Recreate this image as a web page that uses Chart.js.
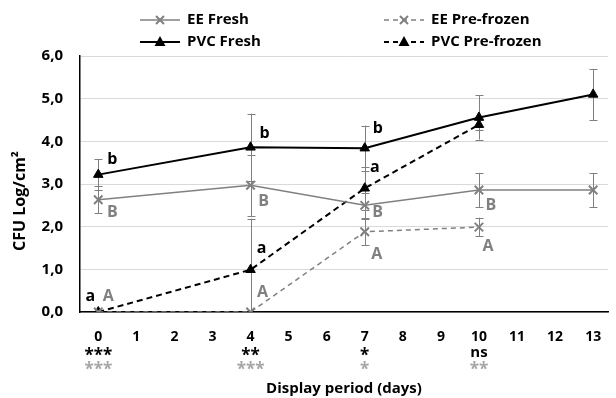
<!DOCTYPE html>
<html lang="en">
<head>
    <meta charset="UTF-8">
    <title>CFU Log/cm2 over display period</title>
    <script src="https://cdn.jsdelivr.net/npm/chart.js"></script>
    <style>
        body { margin: 0; background: #fff; }
        #wrap { width: 616px; height: 398px; }
    </style>
</head>
<body>

    <div id="wrap">
        <canvas id="cfuChart" width="616" height="398"></canvas>
    </div>

    <script>
        // days on which samples were taken
        const days = [0, 4, 7, 10, 13];
        const tickDays = [0, 1, 2, 3, 4, 5, 6, 7, 8, 9, 10, 11, 12, 13];

        // mean values (CFU Log/cm2)
        const eeFresh      = [2.63, 2.97, 2.50, 2.86, 2.86];
        const eePreFrozen  = [0.00, 0.00, 1.88, 1.99, null];
        const pvcFresh     = [3.22, 3.86, 3.84, 4.56, 5.10];
        const pvcPreFrozen = [0.00, 0.99, 2.90, 4.39, null];

        // error bars (+/-)
        const eeFreshErr      = [0.32, 0.72, 0.30, 0.40, 0.40];
        const eePreFrozenErr  = [0, 0, 0.31, 0.22, null];
        const pvcFreshErr     = [0.36, 0.79, 0.53, 0.52, 0.60];
        const pvcPreFrozenErr = [0, 1.20, 0.50, 0.12, null];

        // letters of significance next to the points
        const pvcFreshLetters     = ['b', 'b', 'b', '', ''];
        const pvcPreFrozenLetters = ['a', 'a', 'a', '', ''];
        const eeFreshLetters      = ['B', 'B', 'B', 'B', ''];
        const eePreFrozenLetters  = ['A', 'A', 'A', 'A', ''];

        // significance under the x axis
        const pvcStars = ['***', '**', '*', 'ns', ''];
        const eeStars  = ['***', '***', '*', '**', ''];

        const GREY = '#808080';
        const FONT = '"Open Sans", Lato, sans-serif';

        function toPoints(values) {
            const pts = [];
            values.forEach((v, i) => { if (v !== null) pts.push({ x: days[i], y: v }); });
            return pts;
        }

        // where each letter sits relative to its point (px)
        const letterOffsets = {
            pvcFresh:     [[14, -15], [14, -14], [13, -20]],
            pvcPreFrozen: [[-8, -16], [11, -21], [10, -21]],
            eeFresh:      [[14, 13], [13, 16], [13, 7], [12, 15]],
            eePreFrozen:  [[10, -16], [12, -20], [12, 23], [9, 19]]
        };

        const errorBars = {
            id: 'errorBars',
            beforeDatasetsDraw(chart) {
                const ctx = chart.ctx;
                const xs = chart.scales.x, ys = chart.scales.y;
                const a = chart.chartArea;
                const sets = [
                    [eeFresh, eeFreshErr], [eePreFrozen, eePreFrozenErr],
                    [pvcFresh, pvcFreshErr], [pvcPreFrozen, pvcPreFrozenErr]
                ];
                ctx.save();
                ctx.beginPath();
                ctx.rect(a.left, a.top - 20, a.right - a.left, a.bottom - a.top + 20);
                ctx.clip();
                ctx.strokeStyle = GREY;
                ctx.lineWidth = 1;
                sets.forEach(([vals, errs]) => {
                    vals.forEach((v, i) => {
                        if (v === null || !errs[i]) return;
                        const x = Math.round(xs.getPixelForValue(days[i])) + 0.5;
                        const y1 = ys.getPixelForValue(v + errs[i]);
                        const y2 = ys.getPixelForValue(v - errs[i]);
                        ctx.beginPath();
                        ctx.moveTo(x, y1); ctx.lineTo(x, y2);
                        ctx.moveTo(x - 4, Math.round(y1) + 0.5); ctx.lineTo(x + 4, Math.round(y1) + 0.5);
                        ctx.moveTo(x - 4, Math.round(y2) + 0.5); ctx.lineTo(x + 4, Math.round(y2) + 0.5);
                        ctx.stroke();
                    });
                });
                ctx.restore();
            }
        };

        const annotations = {
            id: 'annotations',
            afterDatasetsDraw(chart) {
                const ctx = chart.ctx;
                const xs = chart.scales.x, ys = chart.scales.y;
                ctx.save();
                ctx.font = 'bold 16px ' + FONT;
                ctx.textAlign = 'center';
                ctx.textBaseline = 'middle';
                const groups = [
                    ['pvcFresh', pvcFresh, pvcFreshLetters, '#000'],
                    ['pvcPreFrozen', pvcPreFrozen, pvcPreFrozenLetters, '#000'],
                    ['eeFresh', eeFresh, eeFreshLetters, GREY],
                    ['eePreFrozen', eePreFrozen, eePreFrozenLetters, GREY]
                ];
                groups.forEach(([key, vals, letters, color]) => {
                    ctx.fillStyle = color;
                    letters.forEach((t, i) => {
                        if (!t) return;
                        const off = letterOffsets[key][i];
                        ctx.fillText(t, xs.getPixelForValue(days[i]) + off[0], ys.getPixelForValue(vals[i]) + off[1]);
                    });
                });
                ctx.restore();
            },
            afterDraw(chart) {
                const ctx = chart.ctx;
                const xs = chart.scales.x;
                const a = chart.chartArea;
                ctx.save();
                ctx.textAlign = 'center';
                ctx.textBaseline = 'alphabetic';
                days.forEach((d, i) => {
                    const x = xs.getPixelForValue(d);
                    if (pvcStars[i] === 'ns') {
                        ctx.fillStyle = '#000';
                        ctx.font = 'bold 15px ' + FONT;
                        ctx.fillText('ns', x, 357);
                    } else if (pvcStars[i]) {
                        ctx.fillStyle = '#000';
                        ctx.font = 'bold 17px ' + FONT;
                        ctx.fillText(pvcStars[i], x, 361);
                    }
                    if (eeStars[i]) {
                        ctx.fillStyle = '#a6a6a6';
                        ctx.font = 'bold 17px ' + FONT;
                        ctx.fillText(eeStars[i], x, 375);
                    }
                });
                // axis titles
                ctx.textBaseline = 'middle';
                ctx.fillStyle = '#000';
                ctx.font = 'bold 15px ' + FONT;
                ctx.fillText('Display period (days)', (a.left + a.right) / 2, 389);
                ctx.translate(20, 201);
                ctx.rotate(-Math.PI / 2);
                ctx.font = 'bold 16px ' + FONT;
                ctx.fillText('CFU Log/cm²', 0, 0);
                ctx.restore();

                // legend
                ctx.save();
                ctx.font = 'bold 15px ' + FONT;
                ctx.textBaseline = 'middle';
                ctx.textAlign = 'left';
                const items = [
                    [140, 20, 'EE Fresh', GREY, 1.5, [], 'x'],
                    [140, 42, 'PVC Fresh', '#000', 2, [], 'tri'],
                    [384, 20, 'EE Pre-frozen', GREY, 1.5, [5, 4], 'x'],
                    [384, 42, 'PVC Pre-frozen', '#000', 2, [5, 4], 'tri']
                ];
                items.forEach(([x, y, text, color, lw, dash, mk]) => {
                    ctx.strokeStyle = color;
                    ctx.lineWidth = lw;
                    ctx.setLineDash(dash);
                    ctx.beginPath();
                    ctx.moveTo(x, y); ctx.lineTo(x + 40, y);
                    ctx.stroke();
                    ctx.setLineDash([]);
                    const cx = x + 20;
                    if (mk === 'x') {
                        ctx.lineWidth = 2;
                        ctx.beginPath();
                        ctx.moveTo(cx - 4, y - 4); ctx.lineTo(cx + 4, y + 4);
                        ctx.moveTo(cx + 4, y - 4); ctx.lineTo(cx - 4, y + 4);
                        ctx.stroke();
                    } else {
                        ctx.fillStyle = color;
                        ctx.beginPath();
                        ctx.moveTo(cx, y - 6); ctx.lineTo(cx + 5.5, y + 4); ctx.lineTo(cx - 5.5, y + 4);
                        ctx.closePath();
                        ctx.fill();
                    }
                    ctx.fillStyle = '#000';
                    ctx.fillText(text, x + 47, y);
                });
                ctx.restore();
            }
        };

        const ctx = document.getElementById('cfuChart').getContext('2d');

        const chart = new Chart(ctx, {
            type: 'line',
            data: {
                datasets: [
                    {
                        label: 'EE Fresh',
                        data: toPoints(eeFresh),
                        borderColor: GREY,
                        backgroundColor: GREY,
                        borderWidth: 1.5,
                        pointStyle: 'crossRot',
                        pointRadius: 6,
                        pointBorderWidth: 2
                    },
                    {
                        label: 'EE Pre-frozen',
                        data: toPoints(eePreFrozen),
                        borderColor: GREY,
                        backgroundColor: GREY,
                        borderWidth: 1.5,
                        borderDash: [5, 4],
                        pointStyle: 'crossRot',
                        pointRadius: 6,
                        pointBorderWidth: 2
                    },
                    {
                        label: 'PVC Fresh',
                        data: toPoints(pvcFresh),
                        borderColor: '#000',
                        backgroundColor: '#000',
                        borderWidth: 2,
                        pointStyle: 'triangle',
                        pointRadius: 5.5,
                        pointBorderWidth: 1
                    },
                    {
                        label: 'PVC Pre-frozen',
                        data: toPoints(pvcPreFrozen),
                        borderColor: '#000',
                        backgroundColor: '#000',
                        borderWidth: 2,
                        borderDash: [6, 4],
                        pointStyle: 'triangle',
                        pointRadius: 5.5,
                        pointBorderWidth: 1
                    }
                ]
            },
            options: {
                responsive: false,
                animation: false,
                layout: { padding: { top: 56, left: 0, right: 0, bottom: 0 } },
                plugins: {
                    legend: { display: false },
                    tooltip: { enabled: false }
                },
                scales: {
                    x: {
                        type: 'linear',
                        min: -0.48,
                        max: 13.39,
                        afterBuildTicks: (axis) => { axis.ticks = tickDays.map(v => ({ value: v })); },
                        afterFit: (axis) => { axis.height = 86; },
                        grid: { display: false },
                        border: { display: true, color: '#000', width: 1.5 },
                        ticks: {
                            color: '#000',
                            font: { family: FONT, size: 14, weight: 'bold' },
                            padding: 9,
                            maxRotation: 0,
                            autoSkip: false
                        }
                    },
                    y: {
                        min: 0,
                        max: 6,
                        afterFit: (axis) => { axis.width = 80; },
                        grid: { color: '#d9d9d9', lineWidth: 1, drawTicks: false },
                        border: { display: true, color: '#000', width: 1.5 },
                        ticks: {
                            stepSize: 1,
                            color: '#000',
                            padding: 17,
                            font: { family: FONT, size: 15, weight: 'bold' },
                            callback: (v) => v.toFixed(1).replace('.', ',')
                        }
                    }
                }
            },
            plugins: [errorBars, annotations]
        });
    </script>

</body>
</html>
